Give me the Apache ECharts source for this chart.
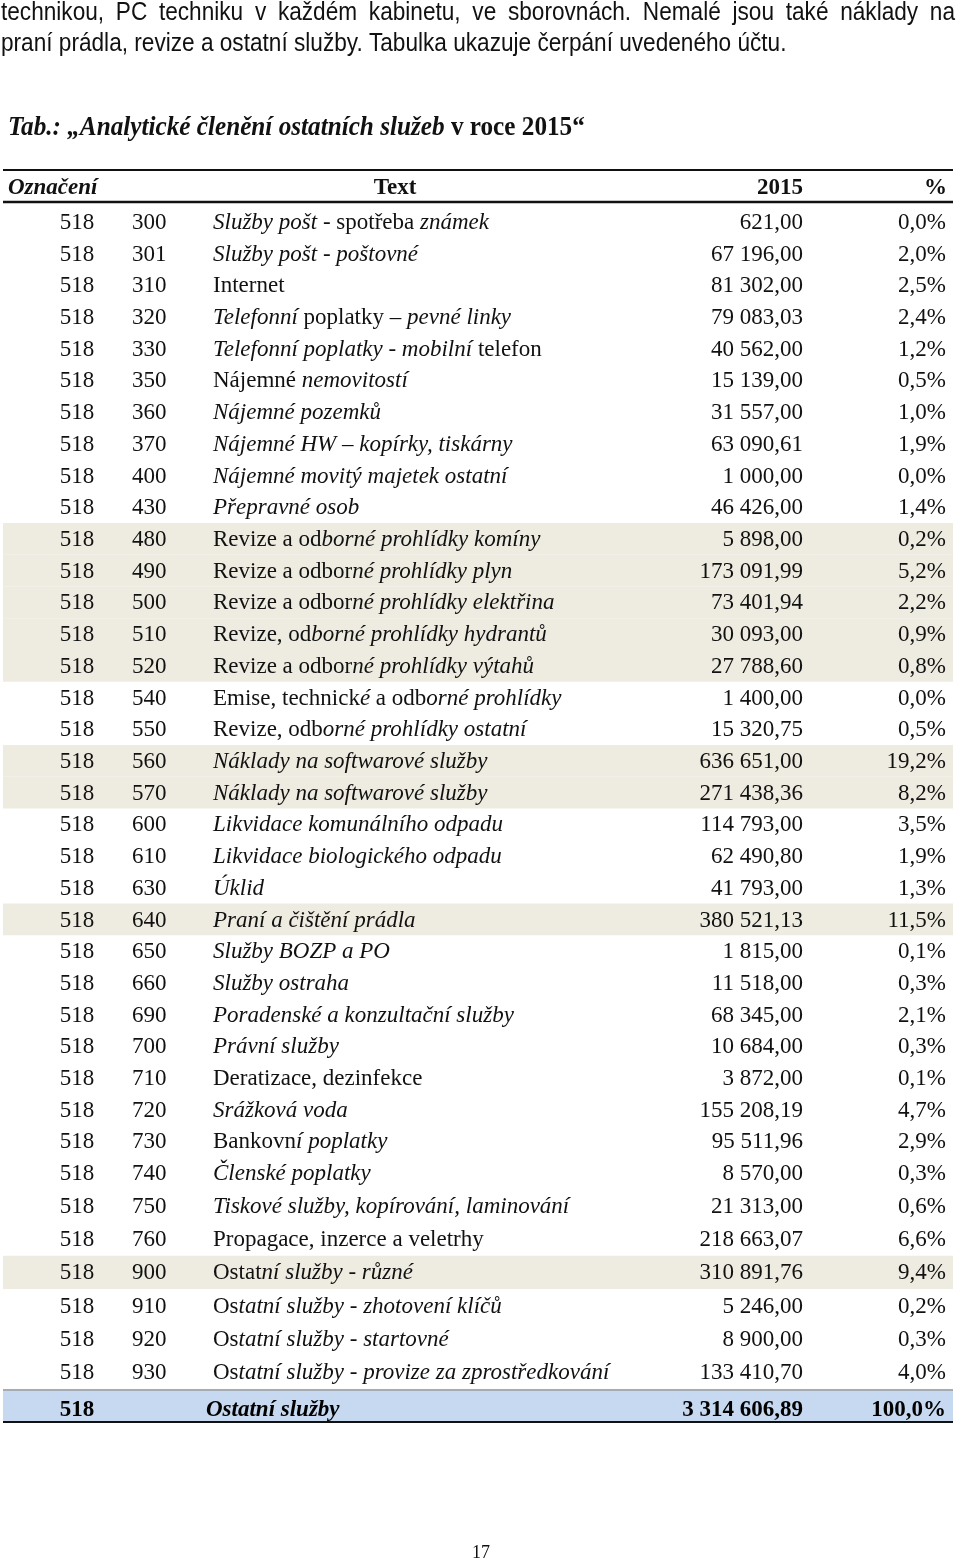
<!DOCTYPE html>
<html><head><meta charset="utf-8">
<script src="https://cdn.jsdelivr.net/npm/echarts@6/dist/echarts.min.js"></script>
<style>html,body{margin:0;padding:0;background:#fff}#c{width:960px;height:1563px}</style>
</head><body><div id="c"></div>
<script>
// ---------------- DATA ----------------
const introLines = [
  'technikou, PC techniku v každém kabinetu, ve sborovnách. Nemalé jsou také náklady na',
  'praní prádla, revize a ostatní služby. Tabulka ukazuje čerpání uvedeného účtu.'
];
const titleItalicPart = 'Tab.: „Analytické členění ostatních služeb';
const titleUprightPart = ' v roce 2015“';
const columnHeaders = ['Označení', 'Text', '2015', '%'];
const accountCode = '518';
const subCodes = ['300','301','310','320','330','350','360','370','400','430',
  '480','490','500','510','520','540','550','560','570','600','610','630','640',
  '650','660','690','700','710','720','730','740','750','760','900','910','920','930'];
const names = [
  'Služby pošt - spotřeba známek',
  'Služby pošt - poštovné',
  'Internet',
  'Telefonní poplatky – pevné linky',
  'Telefonní poplatky - mobilní telefon',
  'Nájemné nemovitostí',
  'Nájemné pozemků',
  'Nájemné HW – kopírky, tiskárny',
  'Nájemné movitý majetek ostatní',
  'Přepravné osob',
  'Revize a odborné prohlídky komíny',
  'Revize a odborné prohlídky plyn',
  'Revize a odborné prohlídky elektřina',
  'Revize, odborné prohlídky hydrantů',
  'Revize a odborné prohlídky výtahů',
  'Emise, technické a odborné prohlídky',
  'Revize, odborné prohlídky ostatní',
  'Náklady na softwarové služby',
  'Náklady na softwarové služby',
  'Likvidace komunálního odpadu',
  'Likvidace biologického odpadu',
  'Úklid',
  'Praní a čištění prádla',
  'Služby BOZP a PO',
  'Služby ostraha',
  'Poradenské a konzultační služby',
  'Právní služby',
  'Deratizace, dezinfekce',
  'Srážková voda',
  'Bankovní poplatky',
  'Členské poplatky',
  'Tiskové služby, kopírování, laminování',
  'Propagace, inzerce a veletrhy',
  'Ostatní služby - různé',
  'Ostatní služby - zhotovení klíčů',
  'Ostatní služby - startovné',
  'Ostatní služby - provize za zprostředkování'
];
const amounts = [621.00, 67196.00, 81302.00, 79083.03, 40562.00, 15139.00, 31557.00,
  63090.61, 1000.00, 46426.00, 5898.00, 173091.99, 73401.94, 30093.00, 27788.60,
  1400.00, 15320.75, 636651.00, 271438.36, 114793.00, 62490.80, 41793.00, 380521.13,
  1815.00, 11518.00, 68345.00, 10684.00, 3872.00, 155208.19, 95511.96, 8570.00,
  21313.00, 218663.07, 310891.76, 5246.00, 8900.00, 133410.70];
const shares = [0.0, 2.0, 2.5, 2.4, 1.2, 0.5, 1.0, 1.9, 0.0, 1.4, 0.2, 5.2, 2.2, 0.9,
  0.8, 0.0, 0.5, 19.2, 8.2, 3.5, 1.9, 1.3, 11.5, 0.1, 0.3, 2.1, 0.3, 0.1, 4.7, 2.9,
  0.3, 0.6, 6.6, 9.4, 0.2, 0.3, 4.0];
const totalLabel = 'Ostatní služby';
const totalAmount = 3314606.89;
const totalShare = 100.0;
const highlightedCodes = ['480','490','500','510','520','560','570','640','900'];
const pageNumber = '17';

// ---------------- STYLE (upright runs inside otherwise italic names) ----------------
const uprightRuns = [
  ['spotřeba'], [], ['Internet'], ['poplatky'], ['telefon'], ['Nájemné'], [], [], [], [],
  ['Revize a od'], ['Revize a odbor'], ['Revize a odbor'], ['Revize, od'], ['Revize a odbor'],
  ['Emise, technick', ' a odb'], ['Revize, odb'], [], [], [], [], [], [], [], [], [], [],
  ['Deratizace, dezinfekce'], [], ['Bankovn'], [], [], ['Propagace, inzerce a veletrhy'],
  ['Ostat'], ['Os'], ['Os'], ['Os']
];

// ---------------- HELPERS ----------------
function fmtAmount(v) {
  const s = v.toFixed(2).split('.');
  const ip = s[0].replace(/\B(?=(\d{3})+(?!\d))/g, ' ');
  return ip + ',' + s[1];
}
function fmtShare(v) { return v.toFixed(1).replace('.', ',') + '%'; }
function richName(name, runs) {
  let out = '', pos = 0;
  runs.forEach(r => {
    const k = name.indexOf(r, pos);
    if (k < 0) return;
    if (k > pos) out += '{i|' + name.slice(pos, k) + '}';
    out += '{u|' + r + '}';
    pos = k + r.length;
  });
  if (pos < name.length) out += '{i|' + name.slice(pos) + '}';
  return out;
}

const SERIF = '"Liberation Serif", "Times New Roman", serif';
const FS = 23;
const COL = { code1: 77, code2: 132, name: 213, amount: 803, share: 946, left: 3, right: 953 };
const BEIGE = '#EEECE1';
const BLUE = '#C6D9F1';
const TEXT_DY = 1;

const richStyles = {
  i: { fontFamily: SERIF, fontSize: FS, fontStyle: 'italic', fill: '#111' },
  u: { fontFamily: SERIF, fontSize: FS, fontStyle: 'normal', fill: '#111' }
};

function makeRenderer(offset) {
  return function (params, api) {
    const r = api.value(0);
    const gi = offset + params.dataIndex;
    const c = api.coord([0, r]);
    const h = api.size([0, 1])[1];
    const y = c[1];
    const X = v => api.coord([v, r])[0];
    const children = [];
    if (highlightedCodes.indexOf(subCodes[gi]) >= 0) {
      children.push({ type: 'rect', shape: { x: X(COL.left), y: y - h / 2, width: X(COL.right) - X(COL.left), height: h }, style: { fill: BEIGE } });
    }
    const base = { font: FS + 'px ' + SERIF, fill: '#111', verticalAlign: 'middle' };
    children.push({ type: 'text', style: Object.assign({}, base, { text: accountCode, x: X(COL.code1), y: y + TEXT_DY, align: 'center' }) });
    children.push({ type: 'text', style: Object.assign({}, base, { text: subCodes[gi], x: X(COL.code2), y: y + TEXT_DY, align: 'left' }) });
    children.push({ type: 'text', style: { text: richName(names[gi], uprightRuns[gi] || []), rich: richStyles, x: X(COL.name), y: y + TEXT_DY, align: 'left', verticalAlign: 'middle', font: FS + 'px ' + SERIF } });
    children.push({ type: 'text', style: Object.assign({}, base, { text: fmtAmount(amounts[gi]), x: X(COL.amount), y: y + TEXT_DY, align: 'right' }) });
    children.push({ type: 'text', style: Object.assign({}, base, { text: fmtShare(shares[gi]), x: X(COL.share), y: y + TEXT_DY, align: 'right' }) });
    return { type: 'group', children };
  };
}

function renderTotal(params, api) {
  const c = api.coord([0, 0]);
  const h = api.size([0, 1])[1];
  const y = c[1];
  const X = v => api.coord([v, 0])[0];
  const bold = { font: 'bold ' + FS + 'px ' + SERIF, fill: '#000', verticalAlign: 'middle' };
  const ty = y + 4;
  return { type: 'group', children: [
    { type: 'rect', shape: { x: X(COL.left), y: y - h / 2, width: X(COL.right) - X(COL.left), height: h }, style: { fill: BLUE } },
    { type: 'text', style: Object.assign({}, bold, { text: accountCode, x: X(COL.code1), y: ty, align: 'center' }) },
    { type: 'text', style: Object.assign({}, bold, { text: totalLabel, x: X(206), y: ty, align: 'left', font: 'italic bold ' + FS + 'px ' + SERIF }) },
    { type: 'text', style: Object.assign({}, bold, { text: fmtAmount(totalAmount), x: X(COL.amount), y: ty, align: 'right' }) },
    { type: 'text', style: Object.assign({}, bold, { text: fmtShare(totalShare), x: X(COL.share), y: ty, align: 'right' }) }
  ]};
}

// split rows between two grids (row pitch differs slightly in the source)
const splitAt = 31;
const rowsA = subCodes.slice(0, splitAt);
const rowsB = subCodes.slice(splitAt);

// ---------------- graphic (page text) ----------------
const SANS = '"Liberation Sans", Arial, sans-serif';
const INTRO_FS = 26;
const INTRO_SX = 0.87;
const graphics = [];
(function () {
  const cv = document.createElement('canvas').getContext('2d');
  cv.font = INTRO_FS + 'px ' + SANS;
  const words = introLines[0].split(' ');
  const widths = words.map(w => cv.measureText(w).width * INTRO_SX);
  const total = widths.reduce((a, b) => a + b, 0);
  const gap = (955 - 1 - total) / (words.length - 1);
  let x = 1;
  words.forEach((w, k) => {
    graphics.push({ type: 'text', x: x, y: 13, scaleX: INTRO_SX, style: { text: w, font: INTRO_FS + 'px ' + SANS, fill: '#111', verticalAlign: 'middle' } });
    x += widths[k] + gap;
  });
  graphics.push({ type: 'text', x: 1, y: 44, scaleX: INTRO_SX, style: { text: introLines[1], font: INTRO_FS + 'px ' + SANS, fill: '#111', verticalAlign: 'middle' } });
})();
graphics.push({ type: 'text', x: 8, y: 128, scaleX: 0.9, style: {
  text: '{bi|' + titleItalicPart + '}{b|' + titleUprightPart + '}', verticalAlign: 'middle',
  rich: {
    bi: { fontFamily: SERIF, fontSize: 28, fontWeight: 'bold', fontStyle: 'italic', fill: '#111' },
    b: { fontFamily: SERIF, fontSize: 28, fontWeight: 'bold', fill: '#111' }
  } } });
// header
graphics.push({ type: 'line', shape: { x1: COL.left, y1: 170, x2: COL.right, y2: 170 }, style: { stroke: '#111', lineWidth: 2 } });
graphics.push({ type: 'line', shape: { x1: COL.left, y1: 202, x2: COL.right, y2: 202 }, style: { stroke: '#111', lineWidth: 2.5 } });
const hdrFont = 'bold ' + FS + 'px ' + SERIF;
graphics.push({ type: 'text', x: 8, y: 188, style: { text: columnHeaders[0], font: 'italic ' + hdrFont, fill: '#111', verticalAlign: 'middle' } });
graphics.push({ type: 'text', x: 395, y: 188, style: { text: columnHeaders[1], font: hdrFont, fill: '#111', align: 'center', verticalAlign: 'middle' } });
graphics.push({ type: 'text', x: COL.amount, y: 188, style: { text: columnHeaders[2], font: hdrFont, fill: '#111', align: 'right', verticalAlign: 'middle' } });
graphics.push({ type: 'text', x: COL.share + 1, y: 188, style: { text: columnHeaders[3], font: hdrFont, fill: '#111', align: 'right', verticalAlign: 'middle' } });
// total row borders
graphics.push({ type: 'line', z: 10, shape: { x1: COL.left, y1: 1390, x2: COL.right, y2: 1390 }, style: { stroke: '#4a5a6a', lineWidth: 1.2 } });
graphics.push({ type: 'line', z: 10, shape: { x1: COL.left, y1: 1422, x2: COL.right, y2: 1422 }, style: { stroke: '#111', lineWidth: 2 } });
// page number
graphics.push({ type: 'text', x: 481, y: 1553, style: { text: pageNumber, font: '18px ' + SERIF, fill: '#111', align: 'center', verticalAlign: 'middle' } });

const hiddenX = g => ({ type: 'value', min: 0, max: 960, show: false, gridIndex: g });
const hiddenY = (g, data) => ({ type: 'category', data: data, inverse: true, show: false, gridIndex: g });

const chart = echarts.init(document.getElementById('c'), null, { renderer: 'canvas' });
chart.setOption({
  animation: false,
  backgroundColor: '#fff',
  grid: [
    { left: 0, right: 0, top: 206, height: 983 },
    { left: 0, right: 0, top: 1189, height: 200 },
    { left: 0, right: 0, top: 1391, height: 30 }
  ],
  xAxis: [hiddenX(0), hiddenX(1), hiddenX(2)],
  yAxis: [hiddenY(0, rowsA), hiddenY(1, rowsB), hiddenY(2, [accountCode])],
  graphic: graphics,
  series: [
    { type: 'custom', xAxisIndex: 0, yAxisIndex: 0, renderItem: makeRenderer(0),
      data: rowsA.map((c, k) => [k]), encode: { y: 0 }, silent: true },
    { type: 'custom', xAxisIndex: 1, yAxisIndex: 1, renderItem: makeRenderer(splitAt),
      data: rowsB.map((c, k) => [k]), encode: { y: 0 }, silent: true },
    { type: 'custom', xAxisIndex: 2, yAxisIndex: 2, renderItem: renderTotal,
      data: [[0]], encode: { y: 0 }, silent: true }
  ]
});
</script></body></html>
